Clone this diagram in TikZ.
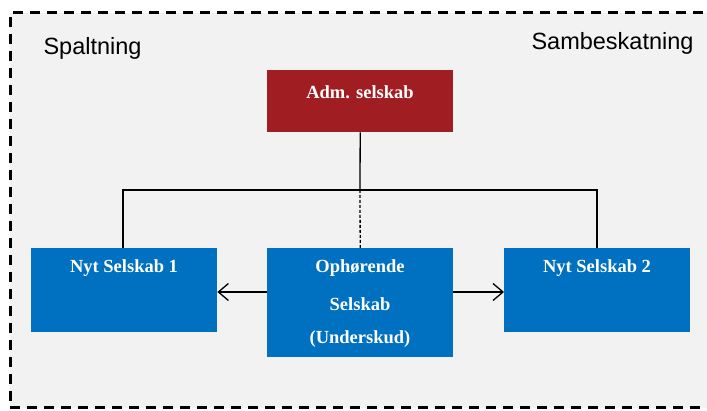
\documentclass[tikz,border=0pt]{standalone}
\usepackage{fontspec}
\setmainfont{Liberation Serif}
\setsansfont{Liberation Sans}
\usetikzlibrary{arrows.meta}
\definecolor{bgcol}{HTML}{F2F2F2}
\definecolor{redbox}{HTML}{A01E22}
\definecolor{bluebox}{HTML}{0070C0}
\tikzset{
  boxbase/.style={draw=none, minimum width=186pt, anchor=north west, inner sep=0pt},
  redstyle/.style={boxbase, fill=redbox, minimum height=62pt},
  bluestyle/.style={boxbase, fill=bluebox, minimum height=84pt},
  boxtext/.style={text=white, font=\bfseries\fontsize{18.5}{18.5}\selectfont, anchor=center},
  conn/.style={line width=1.3pt, black},
  arr/.style={conn, -{Straight Barb[length=10pt,width=17pt,line width=1.3pt]}},
  lbl/.style={font=\sffamily\fontsize{23.5}{23.5}\selectfont, anchor=west},
}
\begin{document}
\begin{tikzpicture}[x=1pt,y=-1pt]
\useasboundingbox (0,0) rectangle (707,411);
\clip (0,0) rectangle (707,411);
\fill[white] (0,0) rectangle (707,411);
\fill[bgcol] (10,13) rectangle (720,408);
\draw[line width=3pt, dash pattern=on 10pt off 7pt] (720,13) -- (10,13) -- (10,408) -- (720,408);
\node[lbl] (spalt) at (40,48) {Spaltning};
\node[lbl] (samb) at (528,43) {Sambeskatning};
\node[redstyle] (adm) at (267,70) {};
\node[boxtext] (admt) at (360,92) {Adm. selskab};
\node[bluestyle] (nyt1) at (31,248) {};
\node[boxtext] (nyt1t) at (124,268) {Nyt Selskab 1};
\node[bluestyle, minimum height=109pt] (oph) at (267,248) {};
\node[boxtext] (opht1) at (360,268) {Ophørende};
\node[boxtext] (opht2) at (360,304) {Selskab};
\node[boxtext] (opht3) at (360,339) {(Underskud)};
\node[bluestyle] (nyt2) at (504,248) {};
\node[boxtext] (nyt2t) at (597,268) {Nyt Selskab 2};
\coordinate (j) at (360,190);
\coordinate (jl) at (123,190);
\coordinate (jr) at (597,190);
\draw[conn] (adm.south) -- (j);
\draw[conn] (nyt1.north -| jl) -- (jl) -- (jr) -- (nyt2.north -| jr);
\draw[conn, dash pattern=on 3pt off 2pt] (j) -- (oph.north);
\draw[arr] (oph.west |- 0,292) -- (nyt1.east |- 0,292);
\draw[arr] (oph.east |- 0,292) -- (nyt2.west |- 0,292);
\end{tikzpicture}
\end{document}
